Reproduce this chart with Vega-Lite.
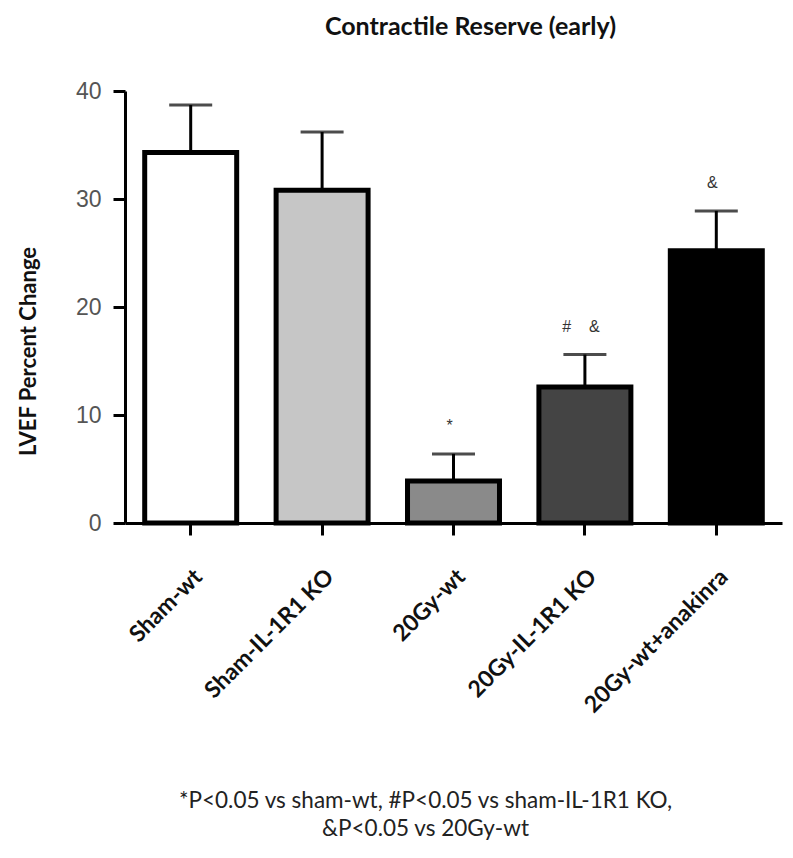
{
  "$schema": "https://vega.github.io/schema/vega-lite/v6.json",
  "width": 657,
  "height": 432,
  "autosize": "none",
  "padding": {"left": 125, "top": 91, "right": 11, "bottom": 335},
  "background": "white",
  "title": {"text": "Contractile Reserve (early)", "font": "Lato", "fontSize": 25, "fontWeight": "bold", "color": "#111111", "offset": 29, "dx": 17},
  "data": {
    "values": [
      {"group": "Sham-wt", "value": 34.3, "err": 38.7, "annot": ""},
      {"group": "Sham-IL-1R1 KO", "value": 30.8, "err": 36.2, "annot": ""},
      {"group": "20Gy-wt", "value": 3.9, "err": 6.4, "annot": "*"},
      {"group": "20Gy-IL-1R1 KO", "value": 12.6, "err": 15.6, "annot": "#\u00a0\u00a0\u00a0\u00a0&"},
      {"group": "20Gy-wt+anakinra", "value": 25.2, "err": 28.9, "annot": "&"}
    ]
  },
  "encoding": {
    "x": {
      "field": "group", "type": "nominal", "sort": null,
      "scale": {"paddingInner": 0.3, "paddingOuter": 0.15},
      "axis": {
        "title": ["*P<0.05 vs sham-wt, #P<0.05 vs sham-IL-1R1 KO,", "&P<0.05 vs 20Gy-wt"],
        "titleFont": "Lato", "titleFontSize": 22.5, "titleFontWeight": "normal", "titleColor": "#222222",
        "titleX": 300, "titleY": 266, "titleAlign": "center", "titleBaseline": "top", "titleLineHeight": 28,
        "labelAngle": -45, "labelAlign": "right", "labelBaseline": "middle",
        "labelFont": "Lato", "labelFontWeight": "bold", "labelFontSize": 23, "labelColor": "#111111",
        "labelPadding": 38, "labelOffset": 8, "labelBound": false, "labelOverlap": false, "labelLimit": 400,
        "tickSize": 12, "tickWidth": 3, "tickColor": "black",
        "domainWidth": 3, "domainColor": "black", "grid": false
      }
    }
  },
  "layer": [
    {
      "mark": {"type": "bar", "stroke": "black", "strokeWidth": 5},
      "encoding": {
        "y": {
          "field": "value", "type": "quantitative",
          "scale": {"domain": [0, 40], "nice": false},
          "axis": {
            "values": [0, 10, 20, 30, 40], "grid": false,
            "title": "LVEF Percent Change", "titleFont": "Lato", "titleFontSize": 22, "titleFontWeight": "bold", "titleColor": "#111111",
            "titleAngle": -90, "titleX": -97, "titleY": 260, "titleAlign": "center", "titleBaseline": "middle",
            "labelFont": "Liberation Sans", "labelFontSize": 23, "labelColor": "#555555", "labelPadding": 12,
            "tickSize": 12, "tickWidth": 3, "tickColor": "black",
            "domainWidth": 3, "domainColor": "black"
          }
        },
        "fill": {
          "field": "group", "type": "nominal", "sort": null,
          "scale": {"domain": ["Sham-wt", "Sham-IL-1R1 KO", "20Gy-wt", "20Gy-IL-1R1 KO", "20Gy-wt+anakinra"], "range": ["#ffffff", "#c6c6c6", "#8a8a8a", "#444444", "#000000"]},
          "legend": null
        }
      }
    },
    {
      "mark": {"type": "rule", "strokeWidth": 3, "color": "black"},
      "encoding": {
        "y": {"field": "value", "type": "quantitative"},
        "y2": {"field": "err"}
      }
    },
    {
      "mark": {"type": "tick", "size": 43, "thickness": 3, "color": "black"},
      "encoding": {
        "y": {"field": "err", "type": "quantitative"}
      }
    },
    {
      "mark": {"type": "text", "font": "Liberation Sans", "fontSize": 16, "color": "#333333", "baseline": "middle", "dy": -28, "dx": -4},
      "encoding": {
        "y": {"field": "err", "type": "quantitative"},
        "text": {"field": "annot"}
      }
    }
  ],
  "config": {"view": {"stroke": null}}
}
